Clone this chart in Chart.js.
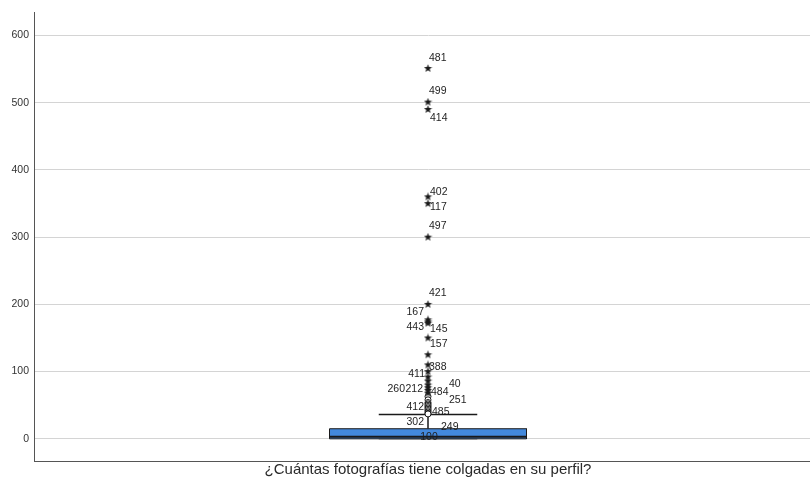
<!DOCTYPE html>
<html>
<head>
<meta charset="utf-8">
<script src="https://cdn.jsdelivr.net/npm/chart.js@4"></script>
<style>
  html, body { margin: 0; padding: 0; background: #fff; overflow: hidden; }
  #wrap { width: 827px; height: 486px; }
</style>
</head>
<body>
<div id="wrap"><canvas id="chart" width="827" height="486"></canvas></div>
<script>
const axisTitle = '¿Cuántas fotografías tiene colgadas en su perfil?';
const yTicks = [0, 100, 200, 300, 400, 500, 600];

// min, Q1, median, Q3, upper whisker
const boxValues = [0, 0, 3, 15, 36];

// extreme outliers (stars) and their case labels
const extremeValues = [551, 501, 490, 360, 350, 300, 200, 177, 174, 172, 150, 125, 110, 100, 92, 86, 80, 76, 72, 68];
const extremeLabels = ['481', '499', '414', '402', '117', '497', '421', '167', '443', '145', '157', '', '388', '411', '', '260', '212', '484', '40', ''];

// mild outliers (circles) and their case labels
const mildValues = [63, 58, 54, 52, 50, 48, 46, 44, 42, 40, 38, 37];
const mildLabels = ['251', '', '', '412', '', '', '485', '', '', '302', '249', '100'];

// where each case label sits next to its mark: [dx, dy, align]
const labelPlacement = {
  '481': [1, -10, 'left'], '499': [1, -11, 'left'], '414': [2, 9, 'left'],
  '402': [2, -5, 'left'], '117': [2, 4, 'left'], '497': [1, -11, 'left'],
  '421': [1, -11, 'left'], '167': [-4, -8, 'right'], '443': [-4, 5, 'right'],
  '145': [2, 6, 'left'], '157': [2, 6, 'left'], '388': [1, 2, 'left'],
  '411': [-3, 3, 'right'], '260': [-23, 8, 'right'], '212': [-5, 4, 'right'],
  '484': [3, 4, 'left'], '40': [21, -6, 'left'], '251': [21, 4, 'left'],
  '412': [-4, 3, 'right'], '485': [4, 4, 'left'], '302': [-4, 10, 'right'],
  '249': [13, 14, 'left'], '100': [1, 23, 'center']
};

const center = 0.5;
const boxHalf = 0.125;
const capHalf = 0.0625;
const [wMin, q1, med, q3, wMax] = boxValues;

// small filled star marker
function makeStar() {
  const c = document.createElement('canvas');
  c.width = 9; c.height = 9;
  const g = c.getContext('2d');
  g.fillStyle = '#1a1a1a';
  g.beginPath();
  for (let i = 0; i < 10; i++) {
    const r = i % 2 === 0 ? 4.3 : 1.8;
    const a = -Math.PI / 2 + i * Math.PI / 5;
    const px = 4.5 + r * Math.cos(a), py = 4.5 + r * Math.sin(a);
    if (i === 0) g.moveTo(px, py); else g.lineTo(px, py);
  }
  g.closePath();
  g.fill();
  return c;
}
const starMark = makeStar();

const font = '"Liberation Sans", Arial, sans-serif';

const pointLabels = {
  id: 'pointLabels',
  afterDatasetsDraw(chart) {
    const ctx = chart.ctx;
    ctx.save();
    ctx.font = '10.5px ' + font;
    ctx.fillStyle = '#1e1e1e';
    ctx.textBaseline = 'middle';
    [[0, extremeLabels], [1, mildLabels]].forEach(([di, labs]) => {
      const meta = chart.getDatasetMeta(di);
      labs.forEach((t, i) => {
        if (!t) return;
        const el = meta.data[i];
        const [dx, dy, align] = labelPlacement[t];
        ctx.textAlign = align;
        ctx.fillText(t, el.x + dx, el.y + dy);
      });
    });
    ctx.restore();
  }
};

const lineDs = (data, extra) => Object.assign({
  data, borderColor: '#1a1a1a', borderWidth: 1.5, pointRadius: 0, fill: false, tension: 0
}, extra);

new Chart(document.getElementById('chart'), {
  type: 'line',
  data: {
    datasets: [
      {
        data: extremeValues.map(v => ({ x: center, y: v })),
        showLine: false, pointStyle: starMark, pointRadius: 4, order: 0
      },
      {
        data: mildValues.map(v => ({ x: center, y: v })),
        showLine: false, pointStyle: 'circle', pointRadius: 3,
        borderColor: '#1a1a1a', backgroundColor: '#ffffff', borderWidth: 1, order: 1
      },
      lineDs([{ x: center - boxHalf, y: med }, { x: center + boxHalf, y: med }], { borderWidth: 2, order: 2 }),
      lineDs([
        { x: center - boxHalf, y: q1 }, { x: center - boxHalf, y: q3 },
        { x: center + boxHalf, y: q3 }, { x: center + boxHalf, y: q1 },
        { x: center - boxHalf, y: q1 }
      ], { borderWidth: 1, order: 3 }),
      lineDs([{ x: center - boxHalf, y: q3 }, { x: center + boxHalf, y: q3 }],
        { borderWidth: 0, fill: { value: q1 }, backgroundColor: '#4389dc', order: 4 }),
      lineDs([{ x: center, y: q3 }, { x: center, y: wMax }], { order: 5 }),
      lineDs([{ x: center - capHalf, y: wMax }, { x: center + capHalf, y: wMax }], { order: 6 }),
      lineDs([{ x: center - capHalf, y: wMin }, { x: center + capHalf, y: wMin }], { borderColor: '#888', order: 7 })
    ]
  },
  options: {
    responsive: false,
    animation: false,
    devicePixelRatio: 1,
    layout: { padding: { top: 12, right: 0, left: 0, bottom: 0 } },
    plugins: {
      legend: { display: false },
      tooltip: { enabled: false }
    },
    scales: {
      x: {
        type: 'linear',
        min: 0,
        max: 1,
        grid: { display: false },
        ticks: { display: false },
        border: { color: '#555', width: 1 },
        title: {
          display: true,
          text: axisTitle,
          color: '#2a2a2a',
          font: { family: font, size: 15 },
          padding: { top: 0, bottom: 7 }
        },
        afterFit: s => { s.height = 25; }
      },
      y: {
        type: 'linear',
        min: -33,
        max: 635,
        afterBuildTicks: s => { s.ticks = yTicks.map(v => ({ value: v })); },
        grid: { color: '#d4d4d4', drawTicks: false },
        border: { color: '#555', width: 1 },
        ticks: {
          padding: 5,
          color: '#333',
          font: { family: font, size: 10.5 }
        },
        afterFit: s => { s.width = 34; }
      }
    }
  },
  plugins: [pointLabels]
});
</script>
</body>
</html>
